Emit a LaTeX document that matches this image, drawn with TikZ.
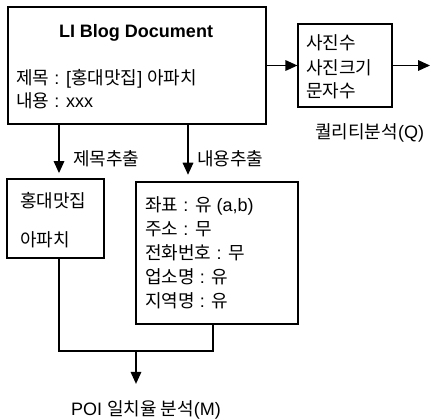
\documentclass[tikz,border=0pt]{standalone}
\usepackage{fontspec}
\setmainfont{Liberation Sans}
\newfontfamily\krfont{Noto Sans CJK KR}
\newcommand{\ko}[1]{{\krfont #1}}
\usetikzlibrary{arrows.meta,fit}
\tikzset{
  box/.style={draw, line width=0.9pt, inner sep=0pt},
  txt/.style={inner sep=0pt, anchor=base west},
  arr/.style={line width=0.9pt, -{Triangle[length=9pt,width=8pt]}},
  wire/.style={line width=0.9pt}
}
\begin{document}
\begin{tikzpicture}[x=0.75pt, y=-0.75pt, font=\fontsize{13.5}{16}\selectfont]
    \useasboundingbox (0,0) rectangle (431,418);
    % documento
    \node[box, fit={(8,7) (266,124)}] (doc) {};
    \node[txt, anchor=base] (doctitle) at (136,37) {\textbf{LI Blog Document}};
    \node[txt] (docsubj) at (16,84) {\ko{제목} : [\ko{홍대맛집}] \ko{아파치}};
    \node[txt] (docbody) at (16,107) {\ko{내용} : xxx};
    % qualita
    \node[box, fit={(298,24) (392,107)}] (qual) {};
    \node[txt] (q1) at (306,49) {\ko{사진수}};
    \node[txt] (q2) at (306,74) {\ko{사진크기}};
    \node[txt] (q3) at (306,97) {\ko{문자수}};
    \node[txt] (qlabel) at (315,138) {\ko{퀄리티분석}(Q)};
    \coordinate (qout) at (430,65.5);
    \draw[arr] (doc.east) -- (qual.west);
    \draw[arr] (qual.east) -- (qout);
    % titolo
    \node[box, fit={(7,179) (104,258)}] (subj) {};
    \node[txt] (s1) at (20,207) {\ko{홍대맛집}};
    \node[txt] (s2) at (20,246) {\ko{아파치}};
    % contenuto
    \node[box, fit={(136,182) (298,324)}] (body) {};
    \node[txt] (b1) at (145,211) {\ko{좌표} : \ko{유} (a,b)};
    \node[txt] (b2) at (145,235) {\ko{주소} : \ko{무}};
    \node[txt] (b3) at (145,259) {\ko{전화번호} : \ko{무}};
    \node[txt] (b4) at (145,283) {\ko{업소명} : \ko{유}};
    \node[txt] (b5) at (145,307) {\ko{지역명} : \ko{유}};
    % estrazione
    \coordinate (xs) at (59,0);
    \coordinate (xb) at (188,0);
    \draw[arr, shorten >=4pt] (doc.south -| xs) -- (subj.north -| xs);
    \draw[arr, shorten >=5pt] (doc.south -| xb) -- (body.north -| xb);
    \node[txt] (lsubj) at (73,165) {\ko{제목추출}};
    \node[txt] (lbody) at (197,165) {\ko{내용추출}};
    % POI
    \coordinate (xr) at (213,0);
    \coordinate (merge) at (136,351);
    \node[txt, anchor=base] (poi) at (146,415) {POI \ko{일치율 분석}(M)};
    \draw[wire] (subj.south -| xs) |- (merge) -| (body.south -| xr);
    \draw[arr, shorten >=12pt] (merge) -- (merge |- poi.north);
\end{tikzpicture}
\end{document}
